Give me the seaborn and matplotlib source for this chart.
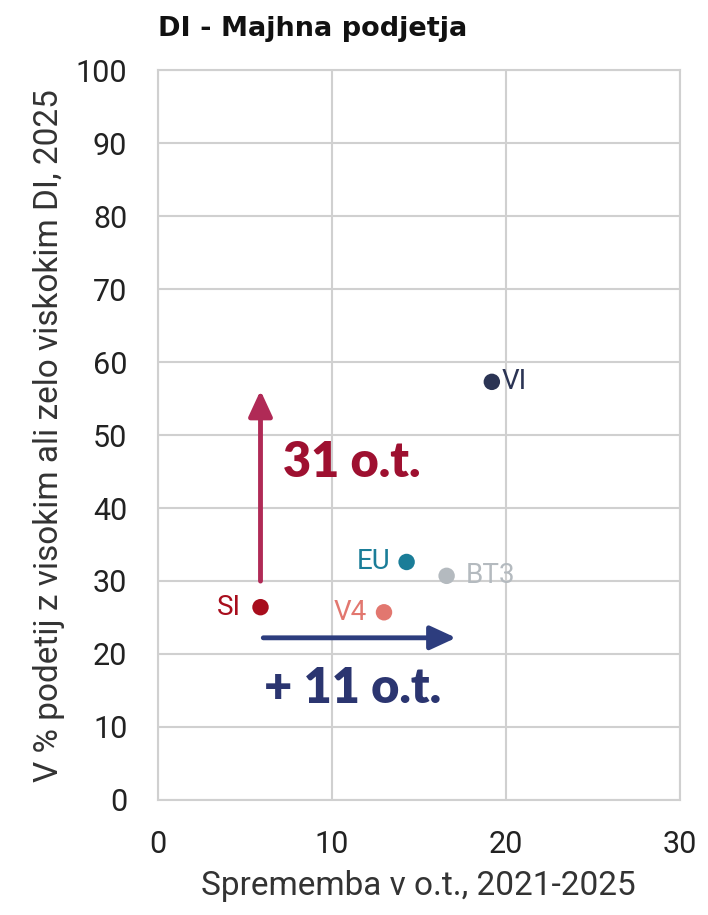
import matplotlib
matplotlib.use('Agg')
import matplotlib.pyplot as plt
import seaborn as sns
import pandas as pd

labels = ['SI', 'V4', 'EU', 'BT3', 'VI']
change = [5.9, 13.0, 14.3, 16.6, 19.2]
share = [26.4, 25.7, 32.6, 30.7, 57.3]
colors = ['#a80d1c', '#e2776f', '#1a7d98', '#b4babf', '#2b3454']

x_ticks = [0, 10, 20, 30]
y_ticks = list(range(0, 101, 10))

df = pd.DataFrame({'label': labels, 'x': change, 'y': share})

sns.set_theme(style='whitegrid')
plt.rcParams['font.family'] = ['Roboto', 'DejaVu Sans']

fig = plt.figure(figsize=(7.08, 9.15), dpi=100)
ax = fig.add_axes([0.223, 0.126, 0.737, 0.797])

sns.scatterplot(data=df, x='x', y='y', hue='label', palette=colors,
                s=140, edgecolor='none', legend=False, ax=ax, zorder=3)

# point labels
offsets = {'SI': (-1.1, 'right'), 'V4': (-1.0, 'right'),
           'EU': (-0.9, 'right'), 'BT3': (1.1, 'left'),
           'VI': (0.55, 'left')}
for lab, x, y, c in zip(labels, change, share, colors):
    dx, ha = offsets[lab]
    ax.text(x + dx, y, lab, color=c, fontsize=20, ha=ha, va='center', zorder=4)

# arrows
si_x, si_y = change[0], share[0]
ax.annotate('', xy=(si_x, 56.5), xytext=(si_x, 29.6),
            arrowprops=dict(arrowstyle='-|>,head_length=1.3,head_width=0.6',
                            color='#b02a56', lw=3.5), zorder=2)
ax.annotate('', xy=(17.3, 22.2), xytext=(si_x, 22.2),
            arrowprops=dict(arrowstyle='-|>,head_length=1.3,head_width=0.6',
                            color='#2d3d7e', lw=3.5), zorder=2)
ax.text(7.2, 46.3, '31 o.t.', color='#9e1030', fontsize=35, fontweight='heavy',
        family='Lato', ha='left', va='center')
ax.text(6.1, 15.3, '+ 11 o.t.', color='#2b3570', fontsize=35, fontweight='heavy',
        family='Lato', ha='left', va='center')

ax.set_xlim(0, 30)
ax.set_ylim(0, 100)
ax.set_xticks(x_ticks)
ax.set_yticks(y_ticks)
ax.tick_params(labelsize=22, colors='#222222')
ax.tick_params(axis='y', pad=16)
ax.tick_params(axis='x', pad=16)
ax.grid(color='#d0d0d0', lw=1.5)
for sp in ax.spines.values():
    sp.set_color('#d0d0d0')
    sp.set_linewidth(1.5)

ax.set_xlabel('Sprememba v o.t., 2021-2025', fontsize=24, color='#333333', labelpad=8)
ax.set_ylabel('V % podetij z visokim ali zelo viskokim DI, 2025', fontsize=24,
              color='#333333', labelpad=8)
fig.text(0.223, 0.968, 'DI - Majhna podjetja', fontsize=19.5, fontweight='bold',
         family='DejaVu Sans', color='#111111', ha='left', va='center')

fig.savefig('out.png', dpi=100, facecolor='white')
